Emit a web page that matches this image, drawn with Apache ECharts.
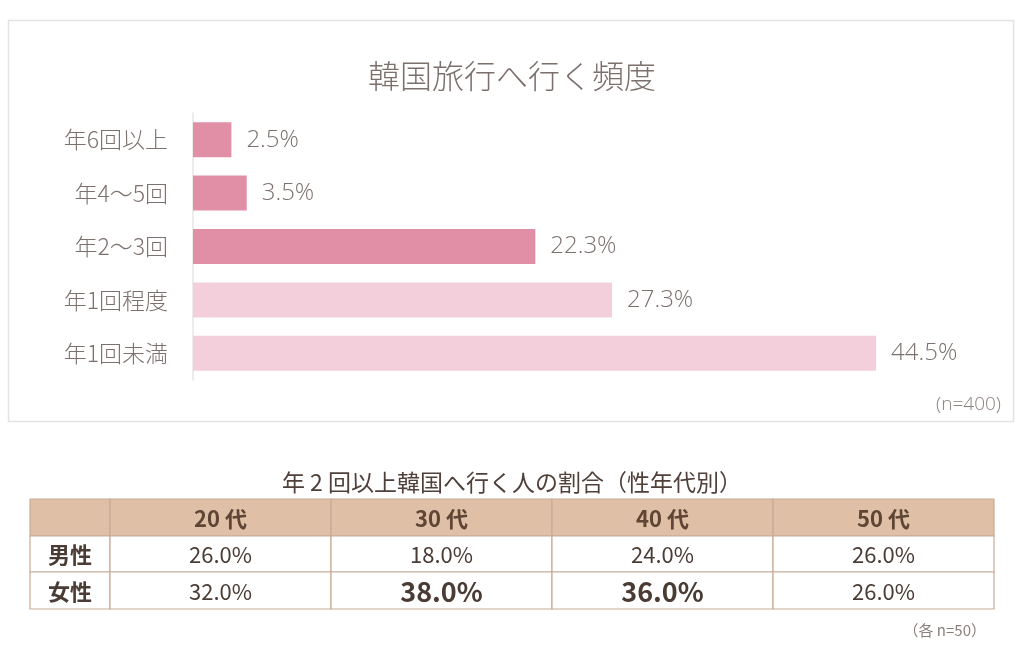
<!DOCTYPE html>
<html>
<head>
<meta charset="utf-8">
<script src="https://cdn.jsdelivr.net/npm/echarts@6/dist/echarts.min.js"></script>
<style>
html,body{margin:0;padding:0;background:#fff;}
#main{width:1024px;height:665px;}
</style>
</head>
<body>
<div id="main"></div>
<script>
// ---- Data ----
var categories = ['年6回以上', '年4〜5回', '年2〜3回', '年1回程度', '年1回未満'];
var values = [2.5, 3.5, 22.3, 27.3, 44.5];
var barColors = ['#e18fa6', '#e18fa6', '#e18fa6', '#f2cfdb', '#f2cfdb'];
var chartTitle = '韓国旅行へ行く頻度';
var sampleNote = '(n=400)';

var tableTitle = '年 2 回以上韓国へ行く人の割合（性年代別）';
var ageHeaders = ['20 代', '30 代', '40 代', '50 代'];
var rowLabels = ['男性', '女性'];
var maleValues = ['26.0%', '18.0%', '24.0%', '26.0%'];
var femaleValues = ['32.0%', '38.0%', '36.0%', '26.0%'];
var maleHighlight = [false, false, false, false];
var femaleHighlight = [false, true, true, false];
var tableNote = '（各 n=50）';

// ---- Chart ----
var chart = echarts.init(document.getElementById('main'));
var JP = '"Noto Sans CJK JP", "Noto Sans", sans-serif';

var tLeft = 30, tTop = 499;
var colW = [80, 221, 221, 221, 221];
var rowH = [37, 36, 37];
var tRows = [[''].concat(ageHeaders), [rowLabels[0]].concat(maleValues), [rowLabels[1]].concat(femaleValues)];
var tHi = [[false, false, false, false, false], [false].concat(maleHighlight), [false].concat(femaleHighlight)];
var graphics = [];
graphics.push({
  type: 'rect', shape: {x: 8.5, y: 20.5, width: 1005, height: 401},
  style: {fill: '#fff', stroke: '#e3e3e3', lineWidth: 1.5}, z: -10
});
var y = tTop;
for (var r = 0; r < tRows.length; r++) {
  var x = tLeft;
  for (var c = 0; c < tRows[r].length; c++) {
    graphics.push({
      type: 'rect', shape: {x: x, y: y, width: colW[c], height: rowH[r]},
      style: {fill: r === 0 ? '#dfc0a6' : '#fff', stroke: '#c9ab96', lineWidth: 1.2}
    });
    var txt = tRows[r][c];
    if (txt) {
      var isHead = r === 0 || c === 0;
      var hi = tHi[r][c];
      graphics.push({
        type: 'text', x: x + colW[c] / 2, y: y + rowH[r] / 2 + 1,
        style: {
          text: txt, align: 'center', verticalAlign: 'middle',
          fontFamily: JP,
          fontSize: hi ? 27 : 22,
          fontWeight: (hi || isHead) ? 'bold' : 'normal',
          fill: r === 0 ? '#5e4535' : '#4a3c34'
        }
      });
    }
    x += colW[c];
  }
  y += rowH[r];
}
graphics.push({
  type: 'text', x: 512, y: 482,
  style: {text: tableTitle, align: 'center', verticalAlign: 'middle', fontFamily: JP, fontSize: 23, fill: '#4f403a'}
});
graphics.push({
  type: 'text', x: 986, y: 630,
  style: {text: tableNote, align: 'right', verticalAlign: 'middle', fontFamily: JP, fontSize: 15, fill: '#8a7f7a'}
});
graphics.push({
  type: 'text', x: 1001, y: 405,
  style: {text: sampleNote, align: 'right', verticalAlign: 'middle', fontFamily: '"Open Sans", sans-serif', fontSize: 19, fontWeight: 300, fill: '#8a807c'}
});

chart.setOption({
  animation: false,
  backgroundColor: '#fff',
  title: {
    text: chartTitle, left: 'center', top: 55,
    textStyle: {fontFamily: JP, fontSize: 32, fontWeight: 300, color: '#7c706c'}
  },
  grid: {left: 193, top: 113, height: 267, width: 767.5, containLabel: false},
  xAxis: {type: 'value', min: 0, max: 50, show: false},
  yAxis: {
    type: 'category', data: categories, inverse: true,
    axisLine: {show: true, lineStyle: {color: '#e6e6e6', width: 1.5}},
    axisTick: {show: false},
    axisLabel: {fontFamily: JP, fontSize: 23, fontWeight: 300, color: '#7d716d', margin: 25}
  },
  series: [{
    type: 'bar', barWidth: 35,
    data: values.map(function (v, i) { return {value: v, itemStyle: {color: barColors[i]}}; }),
    label: {
      show: true, position: 'right', distance: 15,
      formatter: function (p) { return p.value.toFixed(1) + '%'; },
      fontFamily: '"Open Sans", sans-serif', fontSize: 24, fontWeight: 300, color: '#7a706c'
    }
  }],
  graphic: graphics
});
</script>
</body>
</html>
